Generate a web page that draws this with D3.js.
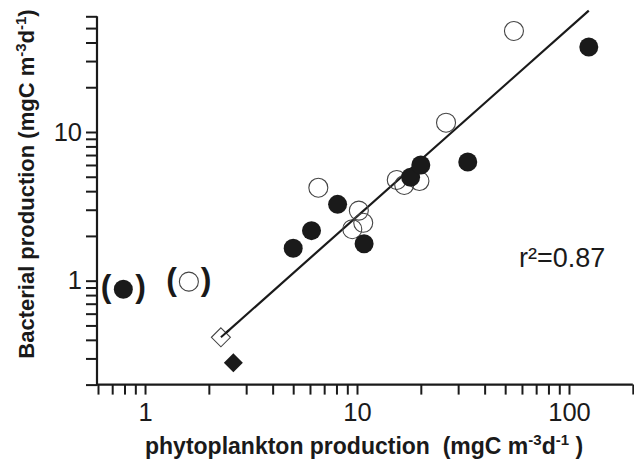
<!DOCTYPE html>
<html>
<head>
<meta charset="utf-8">
<script src="https://cdn.jsdelivr.net/npm/d3@7"></script>
<style>
  html, body { margin: 0; padding: 0; background: #fff; }
  svg { display: block; font-family: "Liberation Sans", Arial, Helvetica, sans-serif; }
</style>
</head>
<body>
<svg id="chart" width="634" height="462"></svg>
<script>
// ---- data ----
const filledX = [5.0, 6.1, 8.1, 10.8, 17.9, 20.0, 33.3, 124];
const filledY = [1.65, 2.17, 3.26, 1.77, 4.96, 6.0, 6.29, 37.3];
const openX = [6.57, 9.5, 10.2, 10.7, 15.4, 16.7, 19.7, 26.3, 55.0];
const openY = [4.22, 2.22, 2.96, 2.45, 4.76, 4.40, 4.68, 11.55, 47.8];
const parenFilledX = [0.79];
const parenFilledY = [0.875];
const parenOpenX = [1.61];
const parenOpenY = [0.985];
const diamondOpenX = [2.28];
const diamondOpenY = [0.416];
const diamondFilledX = [2.61];
const diamondFilledY = [0.281];
const fitX = [2.28, 124];
const fitY = [0.416, 65.5];
const xTicks = [0.6, 0.7, 0.8, 0.9, 1, 2, 3, 4, 5, 6, 7, 8, 9, 10, 20, 30, 40, 50, 60, 70, 80, 90, 100, 200];
const yTicks = [0.2, 0.3, 0.4, 0.5, 0.6, 0.7, 0.8, 0.9, 1, 2, 3, 4, 5, 6, 7, 8, 9, 10, 20, 30, 40, 50, 60];
const xTickLabels = [1, 10, 100];
const yTickLabels = [1, 10];
const rSquaredText = "r\u00B2=0.87";

// ---- layout ----
const svg = d3.select("#chart");
const x = d3.scaleLog().domain([0.6, 200]).range([98, 632.8]);
const y = d3.scaleLog().domain([0.2, 60]).range([384.6, 16.3]);
const ink = "#1a1a1a";

// axes
const xAxis = d3.axisBottom(x).tickValues(xTicks)
  .tickFormat(d => xTickLabels.includes(d) ? String(d) : "")
  .tickSize(10).tickSizeOuter(0).tickPadding(8);
const yAxis = d3.axisLeft(y).tickValues(yTicks)
  .tickFormat(d => yTickLabels.includes(d) ? String(d) : "")
  .tickSize(11).tickSizeOuter(0).tickPadding(4);

const gx = svg.append("g").attr("transform", `translate(0,${y(0.2)})`).call(xAxis);
const gy = svg.append("g").attr("transform", `translate(${x(0.6) - 1},0)`).call(yAxis);
[gx, gy].forEach(g => {
  g.select(".domain").attr("stroke", ink).attr("stroke-width", 2.2);
  g.selectAll(".tick line").attr("stroke", ink).attr("stroke-width", 2);
  g.selectAll(".tick text").attr("fill", ink).attr("font-size", 25.5)
    .attr("font-family", "'Liberation Sans', Arial, sans-serif");
});
// extend domain lines to meet at corner
gx.select(".domain").attr("d", `M${x(0.6) - 2},0H${x(200)}`);
gy.select(".domain").attr("d", `M0,${y(60)}V${y(0.2) + 1}`);

// regression line
svg.append("line")
  .attr("x1", x(fitX[0])).attr("y1", y(fitY[0]))
  .attr("x2", x(fitX[1])).attr("y2", y(fitY[1]))
  .attr("stroke", ink).attr("stroke-width", 2.2);

const R = 9.5;
// open circles
svg.append("g").selectAll("circle").data(d3.zip(openX, openY)).join("circle")
  .attr("cx", d => x(d[0])).attr("cy", d => y(d[1])).attr("r", R)
  .attr("fill", "none").attr("stroke", "#444").attr("stroke-width", 1.1);
// filled circles
svg.append("g").selectAll("circle").data(d3.zip(filledX, filledY)).join("circle")
  .attr("cx", d => x(d[0])).attr("cy", d => y(d[1])).attr("r", R)
  .attr("fill", ink);

// parenthesised points
function parenPoint(px, py, filled) {
  const cx = x(px), cy = y(py);
  svg.append("circle").attr("cx", cx).attr("cy", cy).attr("r", R)
    .attr("fill", filled ? ink : "none")
    .attr("stroke", filled ? "none" : "#444").attr("stroke-width", 1.1);
  svg.append("text").attr("x", cx - 12).attr("y", cy + 8)
    .attr("text-anchor", "end").attr("font-size", 32).attr("font-weight", "bold")
    .attr("fill", ink).text("(");
  svg.append("text").attr("x", cx + 12).attr("y", cy + 8)
    .attr("text-anchor", "start").attr("font-size", 32).attr("font-weight", "bold")
    .attr("fill", ink).text(")");
}
parenFilledX.forEach((v, i) => parenPoint(v, parenFilledY[i], true));
parenOpenX.forEach((v, i) => parenPoint(v, parenOpenY[i], false));

// diamonds
const D = 9.5;
const diamondPath = `M0,${-D}L${D},0L0,${D}L${-D},0Z`;
svg.append("g").selectAll("path").data(d3.zip(diamondOpenX, diamondOpenY)).join("path")
  .attr("d", diamondPath)
  .attr("transform", d => `translate(${x(d[0])},${y(d[1])})`)
  .attr("fill", "#fff").attr("stroke", "#444").attr("stroke-width", 1.1);
svg.append("g").selectAll("path").data(d3.zip(diamondFilledX, diamondFilledY)).join("path")
  .attr("d", diamondPath)
  .attr("transform", d => `translate(${x(d[0])},${y(d[1])})`)
  .attr("fill", ink);
// end of regression line visible over open diamond
svg.append("line")
  .attr("x1", x(fitX[0])).attr("y1", y(fitY[0]))
  .attr("x2", x(fitX[0]) + 8).attr("y2", y(fitY[0]) - 7)
  .attr("stroke", ink).attr("stroke-width", 2);

// r^2 annotation
svg.append("text").attr("x", 519).attr("y", 267)
  .attr("font-size", 27).attr("fill", ink).text(rSquaredText);

// axis titles
const xt = svg.append("text").attr("x", 145).attr("y", 454)
  .attr("font-size", 23).attr("font-weight", "bold").attr("fill", ink);
xt.append("tspan").text("phytoplankton production\u00A0\u00A0(mgC m");
xt.append("tspan").attr("dy", -9).attr("font-size", 15).text("-3");
xt.append("tspan").attr("dy", 9).text("d");
xt.append("tspan").attr("dy", -9).attr("font-size", 15).text("-1");
xt.append("tspan").attr("dy", 9).text(" )");

const yt = svg.append("text")
  .attr("transform", "translate(34,184) rotate(-90)")
  .attr("text-anchor", "middle")
  .attr("font-size", 22).attr("font-weight", "bold").attr("fill", ink);
yt.append("tspan").text("Bacterial production (mgC m");
yt.append("tspan").attr("dy", -8).attr("font-size", 15).text("-3");
yt.append("tspan").attr("dy", 8).text("d");
yt.append("tspan").attr("dy", -8).attr("font-size", 15).text("-1");
yt.append("tspan").attr("dy", 8).text(")");
</script>
</body>
</html>
